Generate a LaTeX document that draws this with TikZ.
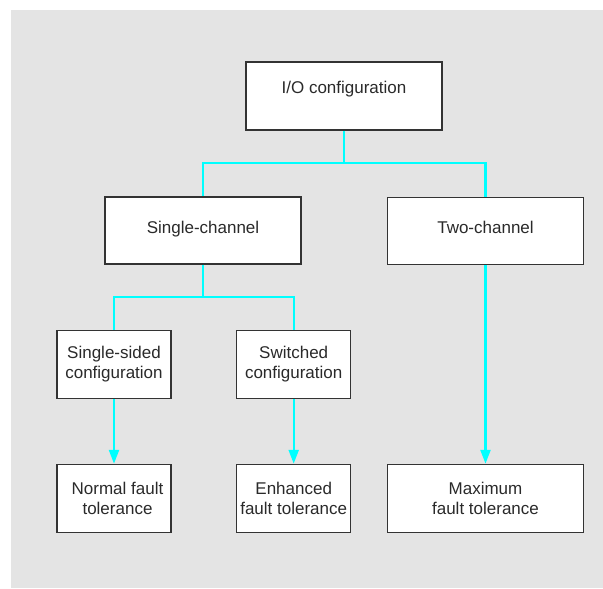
\documentclass[tikz,border=0pt]{standalone}
\usepackage{fontspec}
\setmainfont{Liberation Sans}
\usetikzlibrary{arrows.meta}
\definecolor{bggray}{HTML}{E4E4E4}
\definecolor{boxline}{HTML}{333333}
\definecolor{txt}{HTML}{2A2A2A}
\definecolor{conn}{HTML}{00FFFF}
\tikzset{
  box/.style={draw=boxline, line width=1.1pt, fill=white, inner sep=0pt,
    text=txt, align=center, font=\fontsize{17}{20}\selectfont},
  widebox/.style={box, minimum width=196pt, minimum height=67pt},
  smallbox/.style={box, minimum width=114pt, minimum height=68pt},
  link/.style={draw=conn, line width=2.4pt},
  arrowlink/.style={link, -{Triangle[width=10pt,length=14pt]}}
}
\begin{document}
\begin{tikzpicture}[x=1pt,y=-1pt]
\useasboundingbox (0,0) rectangle (603,589);
\fill[bggray] (11,10) rectangle (603,588);

\node[widebox, minimum height=68pt, text height=12pt, text depth=18pt] (io) at (344,96) {I/O configuration};
\node[widebox, text height=12pt, text depth=6pt] (single) at (203,230.5) {Single-channel};
\node[widebox, text height=12pt, text depth=6pt] (two) at (485.5,230.8) {Two-channel};
\node[smallbox] (ss) at (114,364.5) {Single-sided\\configuration};
\node[smallbox] (sw) at (293.7,364.5) {Switched\\configuration};
\node[smallbox] (nf) at (114,498.3) {\hspace*{7pt}Normal fault\\\hspace*{7pt}tolerance};
\node[smallbox] (ef) at (293.7,498.3) {Enhanced\\fault tolerance};
\node[widebox, minimum height=68pt] (mf) at (485.5,498.3) {Maximum\\fault tolerance};

\coordinate (j1) at (344,163);
\coordinate (j2) at (203,297);

\draw[link] (io.south) -- (j1);
\draw[link] (j1) -| (single.north);
\draw[link] (j1) -| (two.north);
\draw[link] (single.south) -- (j2);
\draw[link] (j2) -| (ss.north);
\draw[link] (j2) -| (sw.north);
\draw[arrowlink] (ss.south) -- (nf.north);
\draw[arrowlink] (sw.south) -- (ef.north);
\draw[arrowlink] (two.south) -- (mf.north);
\end{tikzpicture}
\end{document}
